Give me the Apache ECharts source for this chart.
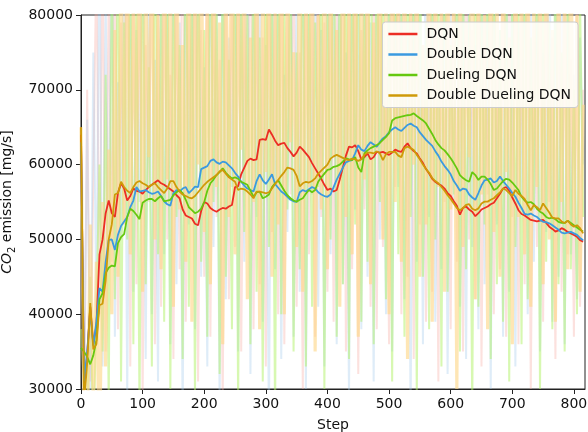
<!DOCTYPE html>
<html>
<head>
<meta charset="utf-8">
<script src="https://cdn.jsdelivr.net/npm/echarts@6/dist/echarts.min.js"></script>
<style>
  html, body { margin: 0; padding: 0; background: #fff; }
  #chart { width: 588px; height: 432px; }
</style>
</head>
<body>
<div id="chart"></div>
<script>
// one sample every 5 steps, 0 .. 815
const STEP = 5;
const xTicks = [0, 100, 200, 300, 400, 500, 600, 700, 800];
const yTicks = [30000, 40000, 50000, 60000, 70000, 80000];

const names = ["DQN", "Double DQN", "Dueling DQN", "Double Dueling DQN"];

// smoothed curves (mg/s)
const dqn = [
  64000, 30000, 34500, 41000, 36000, 38500, 48000, 50000, 53500, 55200,
  53500, 53000, 56200, 57500, 56800, 55200, 55800, 56800, 56500, 56400,
  56100, 56600, 57000, 57300, 57600, 57900, 57500, 57300, 57000, 56700,
  56400, 55900, 55500, 54000, 53200, 53000, 52800, 52100, 51900, 53800,
  55000, 54800, 54200, 53900, 53700, 54000, 54200, 54100, 54400, 54600,
  57000, 57100, 58700, 59600, 60500, 60800, 60600, 60700, 63300, 63400,
  63300, 64700, 64000, 63200, 62600, 62800, 62900, 62200, 61700, 61100,
  61600, 62400, 62000, 61500, 61000, 60200, 59500, 58800, 58100, 57300,
  56600, 56800, 56400, 56600, 58000, 59600, 61200, 62400, 62300, 62600,
  61800, 60700, 61000, 61500, 60700, 61000, 61700, 61600, 61700, 61500,
  61300, 61600, 62000, 61800, 61700, 62400, 62850, 62200, 61800, 61500,
  60800, 60200, 59400, 58800, 58100, 57700, 57400, 57200, 56800, 56200,
  55800, 55100, 54500, 53300, 54200, 54400, 54000, 53700, 53100, 53500,
  54000, 54200, 54400, 54700, 54900, 55500, 56100, 56800, 57000, 56500,
  55600, 54800, 53900, 53400, 53200, 52900, 52600, 52500, 52400, 52500,
  52600, 52200, 51700, 51400, 51050, 51200, 51500, 51300, 51000, 50800,
  50600, 50350, 49900, 49700
];
const doubleDqn = [
  63000, 31000, 35000, 40500, 35800, 39000, 43500, 43000, 47000, 49900,
  50000, 48600, 50600, 51800, 52400, 53000, 54300, 55200, 57000, 56400,
  56500, 56600, 56300, 56100, 56200, 56400, 55800, 55100, 54700, 54500,
  56200, 56600, 56400, 56800, 57000, 56200, 56600, 57050, 57000, 59400,
  59600, 59800, 60500, 60700, 60300, 60100, 60400, 60300, 59900, 59500,
  58900, 58400, 57700, 57200, 56800, 56600, 56400, 57800, 58700, 57900,
  57400, 58000, 58700, 57400, 56900, 56400, 56100, 55700, 55300, 55100,
  55000, 56300, 56600, 56400, 56700, 57000, 56800, 56300, 56000, 55800,
  55700, 56000, 57000, 58000, 58800, 59600, 60300, 60500, 60600, 61500,
  62600, 62000, 61800, 62500, 63000, 62700, 62400, 63000, 63500, 63800,
  64300, 64700, 65000, 64700, 64500, 64900, 65300, 65500, 65200, 65000,
  64300, 63800, 63300, 62900, 62500, 61800, 61200, 60400, 59800, 59300,
  58700, 57800, 57200, 56500, 56800, 56700, 56000, 55600, 55300, 56200,
  57200, 57900, 58000, 58150, 57600, 57800, 58400, 57800, 57300, 56800,
  56200, 55700, 54900, 54200, 53400, 53300, 53450, 53200, 53000, 52600,
  52350, 52300, 52150, 51900, 51600, 51300, 50900, 50800, 50900, 51000,
  50800, 50600, 50200, 49900
];
const duelingDqn = [
  35500, 35000, 34300, 33300, 34500, 36500, 42000, 42800, 45500, 46200,
  46500, 46400, 49500, 50300, 50700, 53000, 54100, 53800, 53300, 52700,
  54900, 55200, 55400, 55400, 55100, 55500, 55800, 55100, 55200, 55300,
  55900, 56300, 56600, 56200, 55300, 54300, 53900, 53500, 53700, 54100,
  55000, 56500, 57500, 58000, 58600, 59000, 59500, 58900, 58500, 58150,
  58300, 58100, 57700, 57500, 57300, 56500, 55700, 56300, 56400, 55500,
  55700, 56000, 57000, 57500, 57900, 57200, 56500, 55900, 55500, 55200,
  55050, 55300, 55500, 56100, 56600, 56300, 56600, 57700, 58300, 58800,
  59300, 59400, 59700, 59800, 60000, 60400, 60850, 60700, 60600, 61000,
  59600, 59000, 61500, 61900, 62200, 62400, 62600, 62900, 63300, 63700,
  64200, 65900, 66200, 66300, 66400, 66500, 66600, 66650, 66850, 66500,
  66200, 65900, 65500, 64800, 64100, 63300, 62700, 62200, 61900, 61400,
  60850, 60200, 59500, 58600, 58200, 57900, 57700, 59000, 58600, 57950,
  58400, 58400, 58000, 57400, 56600, 56800, 57300, 57800, 58100, 58000,
  57600, 57100, 56600, 55700, 55200, 54900, 55000, 54700, 54100, 53700,
  53450, 53000, 52800, 52900, 52700, 52350, 52200, 52200, 52500, 52200,
  51900, 51600, 51300, 51050
];
const doubleDuelingDqn = [
  65000, 28000, 33500, 41500, 35300, 36000, 41200, 41400, 44500, 50000,
  52000, 56000, 56200, 57700, 57000, 56500, 56200, 57000, 57600, 57800,
  57500, 57300, 57000, 57300, 57500, 57000, 56600, 56200, 56800, 57800,
  57800, 57000, 56400, 56000, 55800, 55600, 55500, 55800, 56300, 56800,
  57300, 57700, 58000, 58300, 58600, 59100, 59300, 58800, 58300, 58000,
  57700, 56600, 56800, 56700, 56400, 56000, 55500, 56400, 56400, 56300,
  56150, 56300, 56800, 57400, 57950, 58500, 59000, 59600, 59500, 59300,
  58500, 57100, 57500, 57700, 57600, 57800, 58150, 58800, 59200, 59600,
  60000, 60800, 61100, 61300, 61100, 60900, 60700, 60600, 60800, 60700,
  60500, 60700, 61300, 61600, 61600, 61500, 61800, 61500, 60600, 61400,
  61700, 61700, 61700, 61200, 61000, 62200, 62400, 62200, 61950, 61300,
  60700, 60000, 59400, 58900, 58200, 57800, 57500, 57000, 56500, 55900,
  55400, 54800, 54200, 53900, 54200, 54600, 54700, 54100, 53900, 54150,
  54800, 55050, 55050, 55300, 55500, 55900, 56300, 56800, 56600, 56200,
  55800, 56600, 56100, 55800, 55400, 54600, 53900, 54600, 54300, 53900,
  54800, 54200, 53600, 52900, 52800, 52800, 52400, 52200, 52500, 52000,
  51700, 51900, 51500, 50800
];

// raw (unsmoothed) samples, thousands of mg/s
const rawDqn = [
  62, 25, 70, 31, 58, 88, 40, 92, 35, 84,
  47, 95, 38, 79, 52, 99, 33, 86, 44, 90,
  29, 76, 55, 97, 36, 83, 41, 93, 50, 72,
  34, 88, 46, 101, 39, 81, 57, 94, 31, 78,
  45, 96, 37, 85, 53, 74, 28, 91, 42, 87,
  49, 98, 35, 80, 60, 95, 38, 89, 44, 77,
  33, 92, 51, 84, 40, 99, 36, 82, 56, 90,
  41, 75, 30, 94, 48, 86, 37, 97, 53, 79,
  43, 93, 39, 88, 58, 100, 35, 83, 46, 91,
  32, 78, 54, 96, 41, 85, 38, 92, 49, 73,
  36, 89, 57, 97, 40, 81, 45, 94, 34, 87,
  52, 76, 39, 99, 43, 84, 31, 90, 55, 80,
  38, 95, 47, 86, 35, 92, 50, 78, 42, 97,
  33, 83, 56, 89, 40, 75, 46, 93, 37, 85,
  53, 98, 36, 81, 44, 91, 30, 79, 49, 94,
  39, 86, 55, 77, 34, 90, 43, 82, 48, 74,
  37, 88, 41, 70
];
const rawDoubleDqn = [
  58, 30, 66, 27, 75, 41, 90, 33, 82, 46,
  93, 37, 71, 50, 96, 29, 85, 43, 78, 55,
  99, 34, 88, 40, 74, 31, 92, 48, 83, 36,
  97, 44, 79, 26, 91, 52, 86, 38, 100, 45,
  73, 33, 94, 49, 81, 28, 89, 42, 77, 57,
  95, 35, 84, 47, 98, 32, 80, 53, 91, 39,
  76, 25, 93, 46, 87, 34, 72, 51, 97, 37,
  85, 43, 99, 30, 82, 56, 90, 41, 78, 33,
  94, 48, 86, 36, 101, 44, 75, 29, 92, 54,
  83, 38, 96, 45, 79, 31, 88, 50, 74, 40,
  97, 35, 84, 57, 91, 42, 77, 27, 95, 47,
  81, 36, 99, 53, 87, 39, 73, 46, 93, 32,
  80, 55, 96, 41, 85, 34, 90, 49, 76, 38,
  98, 44, 83, 30, 92, 52, 78, 37, 95, 43,
  86, 33, 79, 56, 94, 40, 82, 47, 89, 35,
  75, 51, 97, 39, 84, 45, 91, 36, 80, 48,
  72, 42, 77, 60
];
const rawDuelingDqn = [
  38, 30, 26, 45, 22, 41, 60, 35, 72, 28,
  88, 42, 95, 31, 79, 50, 91, 36, 84, 27,
  97, 44, 73, 33, 99, 48, 81, 39, 93, 30,
  86, 53, 76, 34, 100, 41, 89, 29, 94, 47,
  78, 37, 96, 55, 83, 32, 91, 45, 74, 38,
  98, 28, 87, 51, 80, 36, 95, 43, 77, 31,
  92, 49, 85, 26, 99, 40, 82, 54, 90, 35,
  75, 46, 97, 33, 88, 41, 79, 57, 94, 30,
  84, 50, 101, 37, 89, 44, 96, 34, 92, 52,
  99, 39, 87, 47, 103, 36, 94, 55, 90, 42,
  85, 31, 97, 48, 81, 37, 93, 53, 88, 29,
  96, 45, 79, 38, 91, 50, 84, 33, 98, 43,
  76, 56, 92, 35, 87, 46, 80, 27, 95, 41,
  83, 52, 89, 34, 99, 44, 78, 39, 93, 31,
  86, 49, 81, 36, 96, 42, 77, 54, 90, 30,
  84, 47, 79, 38, 92, 44, 75, 35, 88, 46,
  70, 40, 82, 53
];
const rawDoubleDuelingDqn = [
  65, 24, 20, 52, 28, 47, 18, 55, 33, 62,
  40, 78, 45, 90, 52, 96, 48, 83, 56, 99,
  43, 87, 61, 94, 50, 80, 46, 92, 58, 85,
  41, 97, 54, 76, 47, 100, 39, 88, 60, 93,
  51, 82, 44, 95, 57, 79, 36, 91, 53, 98,
  48, 84, 62, 90, 42, 77, 55, 96, 38, 86,
  59, 93, 45, 81, 52, 99, 40, 88, 63, 75,
  49, 94, 43, 85, 57, 97, 35, 80, 54, 92,
  46, 89, 61, 78, 41, 96, 53, 84, 48, 100,
  37, 87, 58, 91, 44, 79, 62, 95, 50, 83,
  40, 98, 55, 86, 47, 93, 34, 81, 60, 90,
  45, 76, 52, 97, 39, 88, 57, 82, 43, 94,
  54, 85, 30, 92, 49, 79, 61, 96, 42, 87,
  56, 80, 38, 99, 51, 84, 45, 91, 59, 77,
  36, 93, 53, 86, 48, 97, 41, 82, 57, 89,
  44, 95, 50, 78, 39, 90, 55, 84, 46, 92,
  52, 80, 43, 68
];

const lineColors = ["#ec2d24", "#3b9ae0", "#66c80f", "#cf9a08"];
const rawColors = [
  "rgba(245,170,160,0.35)",
  "rgba(160,200,235,0.35)",
  "rgba(175,242,100,0.5)",
  "rgba(253,214,135,0.62)"
];
const rawWidths = [2, 2, 2, 3.2];

const FONT = "DejaVu Sans";

const toPairs = (vals, scale) => vals.map((v, i) => [i * STEP, v * scale]);

const smooth = [dqn, doubleDqn, duelingDqn, doubleDuelingDqn];
const raw = [rawDqn, rawDoubleDqn, rawDuelingDqn, rawDoubleDuelingDqn];

const series = [];
raw.forEach((vals, k) => {
  series.push({
    name: names[k] + " raw",
    type: "line",
    data: toPairs(vals, 1000),
    symbol: "none",
    silent: true,
    z: 1,
    lineStyle: { width: rawWidths[k], color: rawColors[k], join: "bevel" },
  });
});
smooth.forEach((vals, k) => {
  series.push({
    name: names[k],
    type: "line",
    data: toPairs(vals, 1),
    symbol: "none",
    z: 3 + k,
    itemStyle: { color: lineColors[k] },
    lineStyle: { width: 1.8, color: lineColors[k] },
  });
});

var myChart = echarts.init(document.getElementById("chart"), null, { renderer: "canvas" });

const option = {
  animation: false,
  backgroundColor: "#fff",
  textStyle: { fontFamily: FONT },
  grid: {
    left: 81,
    right: 3,
    top: 15,
    bottom: 43,
    show: true,
    borderColor: "#222",
    borderWidth: 1,
    backgroundColor: "transparent",
    containLabel: false,
    outerBoundsMode: "none",
  },
  legend: {
    data: names,
    orient: "vertical",
    top: 22,
    right: 10,
    icon: "rect",
    itemWidth: 29,
    itemHeight: 2.5,
    itemGap: 6.5,
    padding: [5, 7, 5, 6],
    backgroundColor: "rgba(255,255,255,0.85)",
    borderColor: "#cccccc",
    borderWidth: 1,
    borderRadius: 3,
    textStyle: { fontFamily: FONT, fontSize: 14, color: "#111", lineHeight: 14, padding: [0, 0, 0, 4] },
  },
  xAxis: {
    type: "value",
    min: 0,
    max: 818,
    interval: 100,
    name: "Step",
    nameLocation: "middle",
    nameGap: 29,
    nameTextStyle: { fontFamily: FONT, fontSize: 14, color: "#111" },
    axisLine: { show: true, onZero: false, lineStyle: { color: "#222", width: 1 } },
    axisTick: { show: true, length: 5, lineStyle: { color: "#222" }, customValues: xTicks },
    axisLabel: { fontFamily: FONT, fontSize: 14, color: "#111", margin: 8, customValues: xTicks },
    splitLine: { show: false },
  },
  yAxis: {
    type: "value",
    min: 30000,
    max: 80000,
    interval: 10000,
    name: "{i|CO}{s|2} emission [mg/s]",
    nameLocation: "middle",
    nameGap: 51,
    nameRotate: 90,
    nameTextStyle: {
      fontFamily: FONT,
      fontSize: 14,
      color: "#111",
      lineHeight: 20,
      rich: {
        i: { fontFamily: FONT, fontSize: 14, fontStyle: "italic", color: "#111", lineHeight: 20 },
        s: { fontFamily: FONT, fontSize: 10, color: "#111", lineHeight: 10, verticalAlign: "bottom" },
      },
    },
    axisLine: { show: true, lineStyle: { color: "#222", width: 1 } },
    axisTick: { show: true, length: 5, lineStyle: { color: "#222" }, customValues: yTicks },
    axisLabel: {
      fontFamily: FONT, fontSize: 14, color: "#111", margin: 8, customValues: yTicks,
      formatter: (v) => String(v),
    },
    splitLine: { show: false },
  },
  series: series,
};

myChart.setOption(option);
</script>
</body>
</html>
